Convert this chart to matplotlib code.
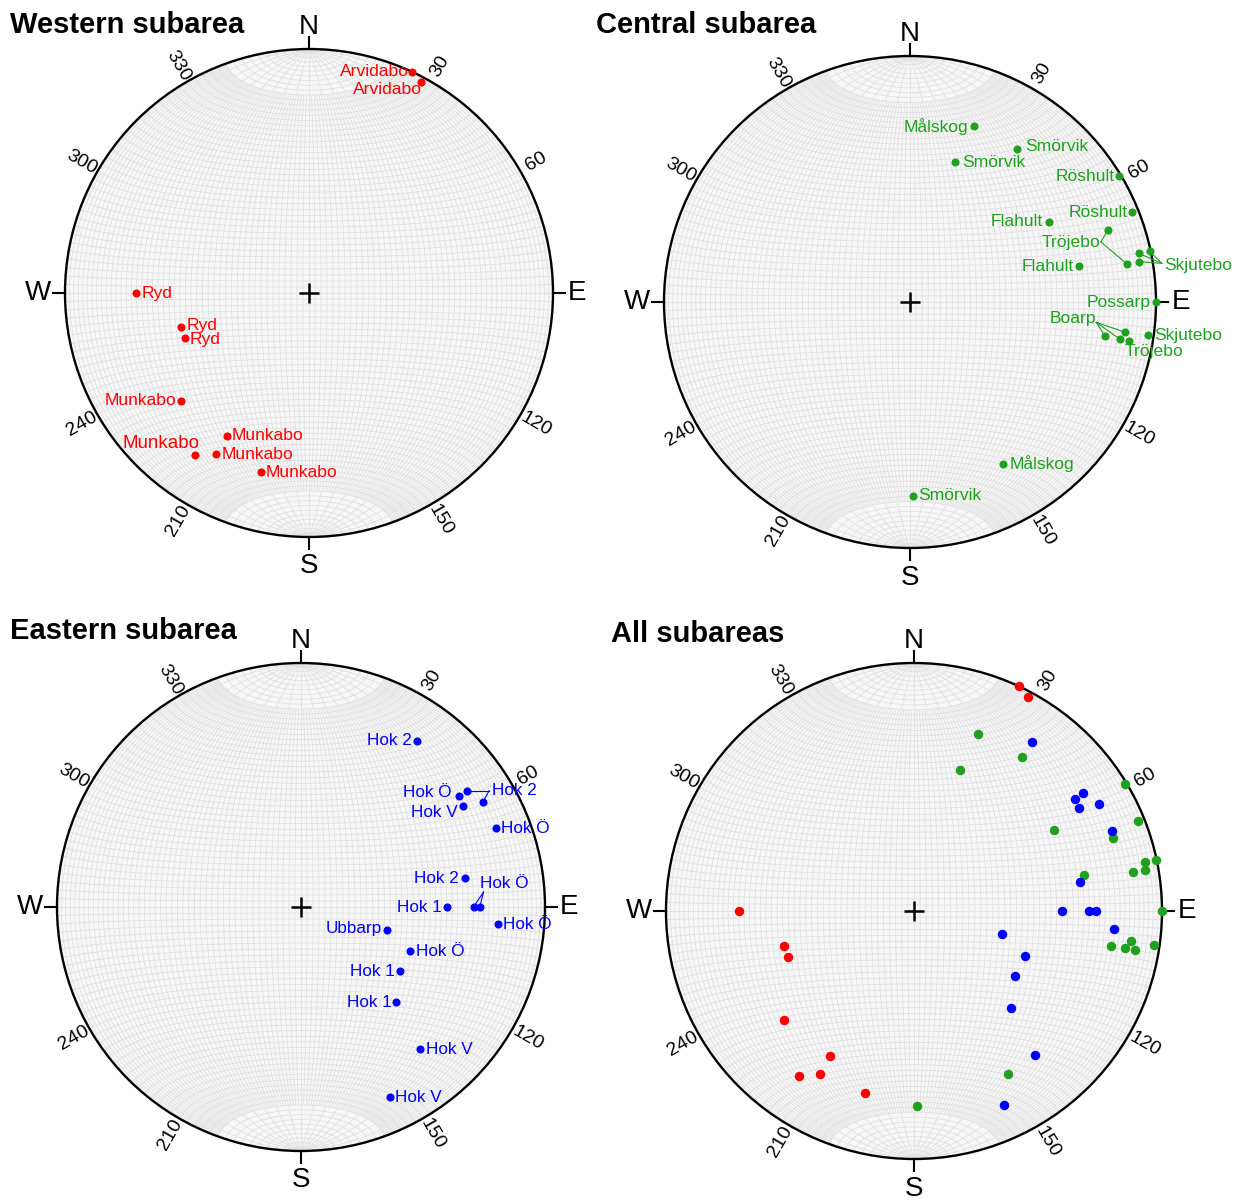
import numpy as np
import matplotlib
matplotlib.use("Agg")
import matplotlib.pyplot as plt
from matplotlib.collections import LineCollection

plt.rcParams['font.family'] = ['Liberation Sans', 'DejaVu Sans']

# Western subarea (trend / plunge, degrees)
west_names = ['Arvidabo', 'Arvidabo', 'Ryd', 'Ryd', 'Ryd',
              'Munkabo', 'Munkabo', 'Munkabo', 'Munkabo', 'Munkabo']
west_trend = [25, 28, 270, 255, 250, 230, 210, 215, 210, 195]
west_plunge = [0, 2.5, 30, 45, 45, 32, 33, 20, 25, 25]

# Central subarea
central_names = ['Målskog', 'Smörvik', 'Smörvik', 'Röshult', 'Röshult', 'Flahult',
                 'Tröjebo', 'Tröjebo', 'Skjutebo', 'Skjutebo', 'Skjutebo', 'Flahult',
                 'Possarp', 'Boarp', 'Boarp', 'Boarp', 'Tröjebo', 'Skjutebo',
                 'Målskog', 'Smörvik']
central_trend = [20, 35, 18, 59, 68, 60, 70, 80, 78, 78, 80, 78,
                 90, 100, 100, 98, 100, 98, 150, 179]
central_plunge = [25, 25, 40, 1, 3, 35, 15.5, 11.5, 5.5, 0.5, 6, 30.5,
                  0, 20.5, 14.5, 12.7, 10.5, 2.7, 25, 22.4]

# Eastern subarea
east_names = ['Hok 2', 'Hok Ö', 'Hok 2', 'Hok 2', 'Hok V', 'Hok Ö', 'Hok 2', 'Hok 1',
              'Hok Ö', 'Hok Ö', 'Hok Ö', 'Ubbarp', 'Hok Ö', 'Hok 1', 'Hok 1',
              'Hok V', 'Hok V']
east_trend = [35, 55, 55, 60, 58, 68, 80, 90, 90, 90, 95, 105, 112, 123, 135, 140, 155]
east_plunge = [18, 22, 18, 15, 22.6, 15, 32.4, 40, 30, 27.6, 20, 60, 50, 50, 44, 25, 15]

RED = '#ff0000'
GREEN = '#1fa01f'
BLUE = '#0000ff'
GRID = '#e0e0e0'

W, H = 1243, 1203
fig = plt.figure(figsize=(W / 100, H / 100), dpi=100)


def project(trend, plunge):
    """Lower hemisphere equal-area projection of lines."""
    t = np.radians(np.asarray(trend, float))
    p = np.radians(np.asarray(plunge, float))
    x = np.cos(p) * np.sin(t)
    y = np.cos(p) * np.cos(t)
    z = np.sin(p)
    return x / np.sqrt(1 + z), y / np.sqrt(1 + z)


def net_lines():
    segs = []
    # great circles through N and S
    for lam in range(2, 180, 2):
        lim = 90 if lam % 10 == 0 else 70
        tt = np.radians(np.linspace(-lim, lim, 120))
        lr = np.radians(lam)
        x = np.cos(tt) * np.cos(lr)
        y = np.sin(tt)
        z = np.cos(tt) * np.sin(lr)
        segs.append(np.column_stack([x / np.sqrt(1 + z), y / np.sqrt(1 + z)]))
    # small circles about the N-S axis
    for s in range(-88, 90, 2):
        ll = np.radians(np.linspace(0, 180, 120))
        sr = np.radians(s)
        x = np.cos(sr) * np.cos(ll)
        y = np.full_like(ll, np.sin(sr))
        z = np.cos(sr) * np.sin(ll)
        segs.append(np.column_stack([x / np.sqrt(1 + z), y / np.sqrt(1 + z)]))
    return segs


def make_net(cx, cy, R, k=1.3):
    ax = fig.add_axes([(cx - k * R) / W, (H - cy - k * R) / H, 2 * k * R / W, 2 * k * R / H])
    ax.set_xlim(-k, k)
    ax.set_ylim(-k, k)
    ax.axis('off')
    ax.add_patch(plt.Circle((0, 0), 1, fill=True, lw=0, color='#f6f6f6', zorder=0))
    ax.add_collection(LineCollection(net_lines(), colors=GRID, linewidths=0.6, zorder=1))
    ax.add_patch(plt.Circle((0, 0), 1, fill=False, lw=1.7, color='black', zorder=3))
    ax.plot(0, 0, marker='+', ms=14, mew=1.8, color='black', zorder=3)
    for name, ang, dist in [('N', 0, 1.09), ('E', 90, 1.1), ('S', 180, 1.12), ('W', 270, 1.11)]:
        a = np.radians(ang)
        ax.plot([np.sin(a), 1.05 * np.sin(a)], [np.cos(a), 1.05 * np.cos(a)], color='black', lw=1.5)
        ax.text(dist * np.sin(a), dist * np.cos(a), name, fontsize=20, ha='center', va='center')
    for ang in [30, 60, 120, 150, 210, 240, 300, 330]:
        a = np.radians(ang)
        rot = 90 - ang if ang < 180 else 270 - ang
        ax.text(1.075 * np.sin(a), 1.075 * np.cos(a), str(ang), fontsize=14, ha='center',
                va='center', rotation=rot, rotation_mode='anchor')
    return ax


def label_points(ax, R, names, trend, plunge, color, layout, groups, fs):
    px, py = project(trend, plunge)
    ax.plot(px, py, 'o', ms=4.8, color=color, zorder=4)
    for i, spec in enumerate(layout):
        if spec is None:
            continue
        ha, dx, dy = spec[:3]
        size = spec[3] if len(spec) > 3 else fs
        ax.annotate(names[i], (px[i], py[i]), xytext=(dx, dy), textcoords='offset pixels',
                    ha=ha, va='center', color=color, fontsize=size, zorder=5)
    for idx, ha, (tx, ty), (sx, sy) in groups:
        x0, y0 = px[idx[0]], py[idx[0]]
        ax.annotate(names[idx[0]], (x0, y0), xytext=(tx, ty), textcoords='offset pixels',
                    ha=ha, va='center', color=color, fontsize=fs, zorder=5)
        for i in idx:
            ax.plot([x0 + sx / R, px[i]], [y0 + sy / R, py[i]], color=color, lw=0.8, zorder=4)


# Western subarea
RW = 244
ax1 = make_net(309, 293, RW)
west_layout = [('right', -3, 0), ('right', 1, -7), ('left', 5, 0), ('left', 5, 2),
               ('left', 5, -1), ('right', -4, 0), ('left', 5, 0), ('right', 4, 12, 13.5),
               ('left', 5, -1), ('left', 5, 0)]
label_points(ax1, RW, west_names, west_trend, west_plunge, RED, west_layout, [], 12.6)

# Central subarea
RC = 246
ax2 = make_net(910, 302, RC)
central_layout = [('right', -6, 0), ('left', 8, 2), ('left', 7, 0), ('right', -4, 0),
                  ('right', -4, 0), ('right', -6, 0), None, None, None, None, None,
                  ('right', -5, 0), ('right', -5, 0), None, None, None,
                  ('left', -4, -11), ('left', 6, 0), ('left', 6, 0), ('left', 5, 0)]
central_groups = [([6, 7], 'right', (-8, -13), (-7, -12)),
                  ([8, 9, 10], 'left', (25, -12), (23, -10)),
                  ([13, 14, 15], 'right', (-9, 18), (-9, 14))]
label_points(ax2, RC, central_names, central_trend, central_plunge, GREEN,
             central_layout, central_groups, 12.6)

# Eastern subarea
RE = 244
ax3 = make_net(301, 907, RE)
east_layout = [('right', -6, 0), ('right', -7, 4), None, None, ('right', -6, -7),
               ('left', 5, 0), ('right', -6, 0), ('right', -5, 0), None, None,
               ('left', 5, 0), ('right', -5, 2), ('left', 6, 0), ('right', -5, 0),
               ('right', -5, 0), ('left', 6, 0), ('left', 5, 0)]
east_groups = [([2, 3], 'left', (25, 0), (22, 0)),
               ([8, 9], 'left', (6, 23), (10, 15))]
label_points(ax3, RE, east_names, east_trend, east_plunge, BLUE,
             east_layout, east_groups, 12.3)

# All subareas
ax4 = make_net(914, 911, 248)
for tr, pl, c in [(west_trend, west_plunge, RED),
                  (central_trend, central_plunge, GREEN),
                  (east_trend, east_plunge, BLUE)]:
    x, y = project(tr, pl)
    ax4.plot(x, y, 'o', ms=5.8, color=c, zorder=4)

for txt, x, y in [('Western subarea', 10, 25), ('Central subarea', 596, 25),
                  ('Eastern subarea', 10, 631), ('All subareas', 611, 634)]:
    fig.text(x / W, 1 - y / H, txt, fontsize=21, fontweight='bold', va='center', ha='left')

fig.savefig('out.png', dpi=100, facecolor='white')
